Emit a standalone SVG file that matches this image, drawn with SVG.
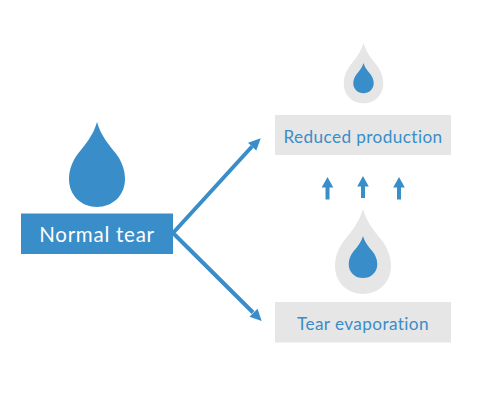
<svg xmlns="http://www.w3.org/2000/svg" xmlns:xlink="http://www.w3.org/1999/xlink" width="480" height="400" viewBox="0 0 480 400">
<style>
.blue{fill:#398dc9}
.gray{fill:#e6e6e6}
text{font-family:"Lato","Open Sans",sans-serif;text-anchor:middle}
.lbl{font-size:17.200px;fill:#398dc9;letter-spacing:.4px}
.main{font-size:20.500px;fill:#fff;letter-spacing:.75px}
.conn{stroke:#398dc9;fill:none;stroke-width:4}
.up{stroke:#398dc9;fill:none;stroke-width:4}
.head{fill:#398dc9}
</style>
<defs>
<path id="drop" d="M0 0C4 14 12 23 18.500 31C24 38 28 47 28 57C28 74 15 85 0 85C-15 85-28 74-28 57C-28 47-24 38-18.500 31C-12 23-4 14 0 0Z"/>
</defs>
<rect width="480" height="400" fill="#fff"/>
<g id="normal-tear">
<use href="#drop" class="blue" transform="translate(97 122)"/>
<rect class="blue" x="21" y="213.500" width="152" height="40.500"/>
<text class="main" x="97" y="242">Normal tear</text>
</g>
<g id="reduced-production">
<use href="#drop" class="gray" transform="translate(363.500 43) scale(.705 .71)"/>
<use href="#drop" class="blue" transform="translate(363.500 63) scale(.365 .355)"/>
<rect class="gray" x="275" y="115" width="176" height="40"/>
<text class="lbl" x="363" y="142.500">Reduced production</text>
</g>
<g id="tear-evaporation">
<use href="#drop" class="gray" transform="translate(363 209)"/>
<use href="#drop" class="blue" transform="translate(363 236) scale(.51 .495)"/>
<rect class="gray" x="275" y="302" width="176" height="40.500"/>
<text class="lbl" x="363" y="330">Tear evaporation</text>
</g>
<g id="connectors">
<path class="conn" d="M173 233L252 146.500M173 233L253 312.500"/>
<polygon class="head" points="260.700,138.300 256.300,150.500 248,142.800"/>
<polygon class="head" points="261.700,321 249.500,316.800 257.500,308.800"/>
<path class="up" d="M327.500 186V199.500M363 185V198M399 186V199.500"/>
<polygon class="head" points="327.500,177 321.700,187.500 333.300,187.500"/>
<polygon class="head" points="363,176 357.200,186.500 368.800,186.500"/>
<polygon class="head" points="399,177 393.200,187.500 404.800,187.500"/>
</g>
</svg>
